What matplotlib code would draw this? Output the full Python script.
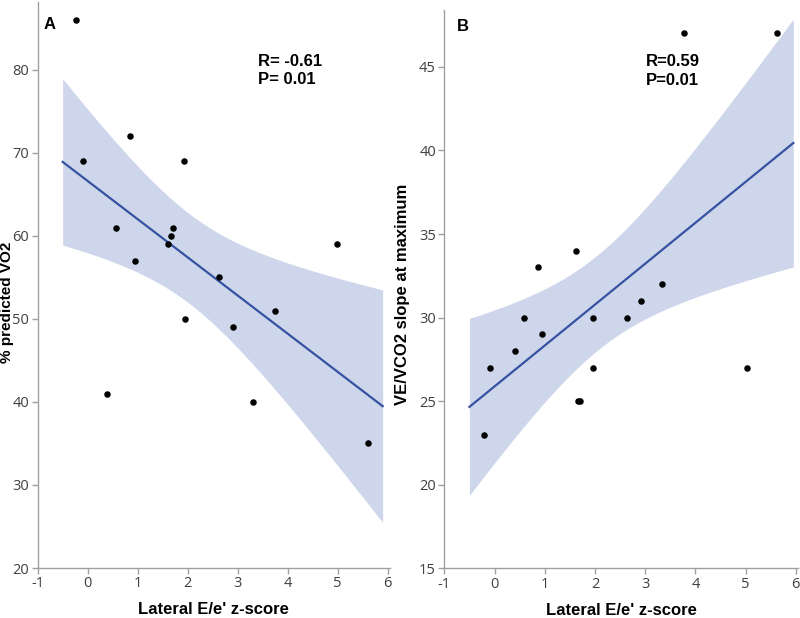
import numpy as np
import matplotlib
matplotlib.use("Agg")
import matplotlib.pyplot as plt

plt.rcParams["axes.unicode_minus"] = False

# Panel A: lateral E/e' z-score vs % predicted VO2
xa = [-0.23, -0.09, 0.39, 0.56, 0.85, 0.95, 1.61, 1.67, 1.70, 1.92, 1.95,
      2.62, 2.91, 3.31, 3.74, 4.99, 5.60]
ya = [86, 69, 41, 61, 72, 57, 59, 60, 61, 69, 50, 55, 49, 40, 51, 59, 35]

# Panel B: lateral E/e' z-score vs VE/VCO2 slope at maximum
xb = [-0.20, -0.10, 0.41, 0.58, 0.87, 0.95, 1.63, 1.67, 1.70, 1.96, 1.96,
      2.63, 2.92, 3.34, 3.77, 5.02, 5.63]
yb = [23, 27, 28, 30, 33, 29, 34, 25, 25, 30, 27, 30, 31, 32, 47, 27, 47]

stats_a = "R= -0.61\nP= 0.01"
stats_b = "R=0.59\nP=0.01"

T975 = 2.131  # t quantile, df = 15

band_col = "#cdd6ea"
line_col = "#3653a3"
axis_col = "#a0a0a0"
tick_txt = "#404040"


def fit_band(x, y, xs):
    x = np.asarray(x, float)
    y = np.asarray(y, float)
    n = len(x)
    b, a = np.polyfit(x, y, 1)
    resid = y - (a + b * x)
    s = np.sqrt((resid ** 2).sum() / (n - 2))
    sxx = ((x - x.mean()) ** 2).sum()
    fit = a + b * xs
    se = s * np.sqrt(1.0 / n + (xs - x.mean()) ** 2 / sxx)
    return fit, fit - T975 * se, fit + T975 * se


def panel(ax, x, y, xmax, ylim, yticks, ylabel, letter, stats,
          letter_pos, stats_pos, ylab_pos, xlab_y, ylab_size):
    xs = np.linspace(-0.5, xmax, 200)
    fit, lo, hi = fit_band(x, y, xs)
    ax.fill_between(xs, lo, hi, color=band_col, lw=0, zorder=1)
    ax.plot(xs, fit, color=line_col, lw=1.6, zorder=2)
    ax.scatter(x, y, s=22, color="black", zorder=3, linewidths=0)
    ax.set_xlim(-1, 6.05)
    ax.set_ylim(*ylim)
    ax.set_xticks(range(-1, 7))
    ax.set_yticks(yticks)
    for sp in ("top", "right"):
        ax.spines[sp].set_visible(False)
    for sp in ("left", "bottom"):
        ax.spines[sp].set_color(axis_col)
        ax.spines[sp].set_linewidth(1.0)
    ax.tick_params(direction="out", length=4, width=1, color=axis_col,
                   labelcolor=tick_txt, labelsize=10.5, pad=2)
    for lab in ax.get_xticklabels() + ax.get_yticklabels():
        lab.set_fontfamily("Open Sans")
    ax.set_xlabel("Lateral E/e' z-score", fontsize=12, fontweight="bold",
                  family="Liberation Sans", va="center")
    ax.set_ylabel(ylabel, fontsize=ylab_size, fontweight="bold",
                  family="Liberation Sans", va="center")
    ax.xaxis.set_label_coords(0.5, xlab_y)
    ax.yaxis.set_label_coords(*ylab_pos)
    ax.text(letter_pos[0], letter_pos[1], letter, transform=ax.transAxes,
            fontsize=12, fontweight="bold", family="Liberation Sans",
            va="center")
    ax.text(stats_pos[0], stats_pos[1], stats, transform=ax.transAxes,
            fontsize=12, fontweight="bold", family="Liberation Sans",
            va="center", linespacing=1.3)


fig = plt.figure(figsize=(8, 6.18), dpi=100)
ax1 = fig.add_axes([0.0471, 0.0809, 0.4406, 0.9163])
ax2 = fig.add_axes([0.5554, 0.0804, 0.4425, 0.9034])

panel(ax1, xa, ya, 5.9, (20, 88.2), [20, 30, 40, 50, 60, 70, 80],
      "% predicted VO2", "A", stats_a, (0.018, 0.959), (0.625, 0.8785),
      (-0.088, 0.47), -0.074, 11)
panel(ax2, xb, yb, 5.95, (15, 48.4), [15, 20, 25, 30, 35, 40, 45],
      "VE/VCO2 slope at maximum", "B", stats_b, (0.035, 0.971),
      (0.57, 0.891), (-0.117, 0.49), -0.0747, 12)

fig.savefig("out.png", dpi=100)
